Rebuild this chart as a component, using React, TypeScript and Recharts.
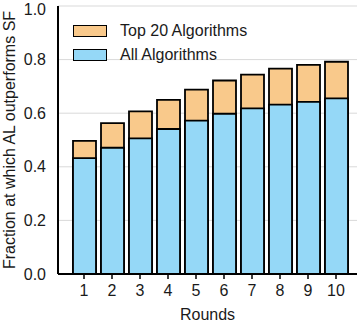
import { Bar, BarChart, CartesianGrid, Legend, XAxis, YAxis } from "recharts";

const rounds = ["1", "2", "3", "4", "5", "6", "7", "8", "9", "10"];
const top20 = [0.497, 0.563, 0.607, 0.65, 0.688, 0.722, 0.744, 0.766, 0.78, 0.792];
const allAlgs = [0.432, 0.471, 0.506, 0.541, 0.572, 0.598, 0.618, 0.632, 0.642, 0.655];
const yTicks = [0, 0.2, 0.4, 0.6, 0.8, 1.0];
const legendOrder = ["Top 20 Algorithms", "All Algorithms"];

const data = rounds.map((round, i) => ({ round, top20: top20[i], all: allAlgs[i] }));

const FONT = "'Liberation Sans', Arial, Helvetica, sans-serif";
const ORANGE = "#f9c98b";
const BLUE = "#95d8f7";
const tickStyle = { fontSize: 16, fill: "#1a1a1a", fontFamily: FONT };

const LegendBox = ({ payload }: any) => {
  const items = [...(payload || [])].sort(
    (a: any, b: any) => legendOrder.indexOf(a.value) - legendOrder.indexOf(b.value)
  );
  return (
    <div style={{ fontFamily: FONT, fontSize: 16, color: "#1a1a1a" }}>
      {items.map((p: any) => (
        <div key={p.value} style={{ display: "flex", alignItems: "center", height: 24 }}>
          <span
            style={{
              display: "inline-block",
              width: 32,
              height: 10,
              background: p.color,
              border: "1.5px solid #000",
              marginRight: 13,
            }}
          />
          {p.value}
        </div>
      ))}
    </div>
  );
};

export default function App() {
  return (
    <div style={{ position: "absolute", left: 0, top: 0 }}>
      <BarChart width={363} height={322} data={data} margin={{ top: 6, right: 6, bottom: 0, left: 0 }}>
        <CartesianGrid vertical={false} stroke="#d9d9d9" strokeWidth={1} />
        <XAxis
          dataKey="round"
          height={48}
          padding={{ left: 12, right: 7 }}
          tick={tickStyle}
          tickSize={5}
          tickMargin={6}
          tickLine={{ stroke: "#000", strokeWidth: 1.5 }}
          axisLine={{ stroke: "#000", strokeWidth: 2 }}
          label={{ value: "Rounds", position: "insideBottom", offset: 2, style: tickStyle }}
        />
        <XAxis
          xAxisId="top"
          dataKey="round"
          orientation="top"
          height={0}
          padding={{ left: 12, right: 7 }}
          tick={false}
          tickLine={false}
          axisLine={{ stroke: "#000", strokeWidth: 2 }}
        />
        <YAxis
          width={58}
          domain={[0, 1]}
          ticks={yTicks}
          tickFormatter={(v: number) => v.toFixed(1)}
          tick={tickStyle}
          tickLine={false}
          tickSize={0}
          tickMargin={12}
          axisLine={{ stroke: "#000", strokeWidth: 2 }}
          label={{
            value: "Fraction at which AL outperforms SF",
            angle: -90,
            position: "center",
            dx: -20,
            style: tickStyle,
          }}
        />
        <YAxis
          yAxisId="right"
          orientation="right"
          width={0}
          domain={[0, 1]}
          ticks={yTicks}
          tick={false}
          tickLine={false}
          axisLine={{ stroke: "#000", strokeWidth: 2 }}
        />
        <Legend
          layout="vertical"
          align="center"
          verticalAlign="middle"
          content={<LegendBox />}
          wrapperStyle={{ left: 73, top: 19, width: "auto" }}
        />
        <Bar
          dataKey="top20"
          name="Top 20 Algorithms"
          fill={ORANGE}
          stroke="#000"
          strokeWidth={1.8}
          barSize={23}
          isAnimationActive={false}
        />
        <Bar
          dataKey="all"
          name="All Algorithms"
          xAxisId="top"
          yAxisId="right"
          fill={BLUE}
          stroke="#000"
          strokeWidth={1.8}
          barSize={23}
          isAnimationActive={false}
        />
      </BarChart>
    </div>
  );
}
